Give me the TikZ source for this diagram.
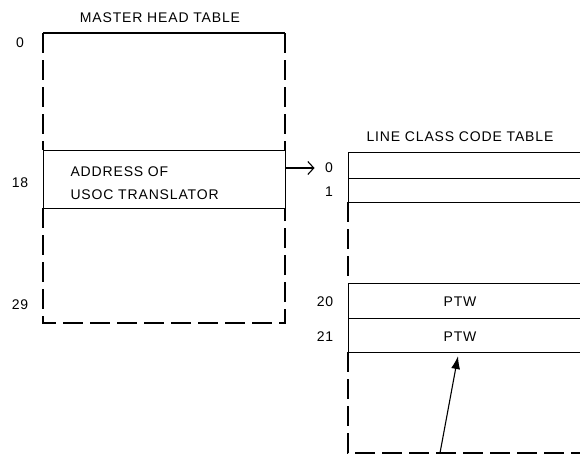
\documentclass[tikz,border=0pt]{standalone}
\usepackage{fontspec}
\newfontfamily\plotfont[LetterSpace=6]{Liberation Sans}
\usetikzlibrary{arrows.meta,positioning,calc}

\begin{document}
\begin{tikzpicture}[x=1pt, y=-1pt, line width=1.1pt,
    txt/.style={font=\plotfont\fontsize{14}{23}\selectfont, inner sep=0pt},
    cell/.style={draw, anchor=north west, inner sep=0pt, minimum width=#1},
    cell/.default=242pt,
    brk/.style={dash pattern=on 20pt off 7pt},
    arr/.style={-{Straight Barb[length=6pt,width=13pt]}},
    parr/.style={-{Latex[length=13pt,width=9pt]}}
]
\useasboundingbox (0,0) rectangle (580,456);
\clip (0,0) rectangle (580,456);

% master head table
\node[txt] (mhtitle) at (160,18) {MASTER HEAD TABLE};
\draw (43,33) -- (285,33);
\draw[brk] (43,33) -- (43,150) (285,33) -- (285,150);
\node[cell, minimum height=58pt] (addr) at (43,150) {};
\node[txt, anchor=west, align=left] (addrtxt) at (70,183) {ADDRESS OF\\USOC TRANSLATOR};
\draw[brk] (43,208) -- (43,323) -- (285,323) -- (285,208);
\node[txt] (m0) at (20,43) {0};
\node[txt] (m18) at (20,183) {18};
\node[txt] (m29) at (20,305) {29};

% line class code table
\node[txt] (lctitle) at (460,137) {LINE CLASS CODE TABLE};
\node[cell=270pt, minimum height=26pt] (r0) at (348,152) {};
\node[cell=270pt, minimum height=24pt] (r1) at (348,178) {};
\draw[brk] (348,202) -- (348,283);
\node[cell=270pt, minimum height=35pt] (r20) at (348,283) {};
\node[cell=270pt, minimum height=34pt] (r21) at (348,318) {};
\draw[brk] (348,352) -- (348,453) -- (620,453);
\node[txt] (l0) at (329,168) {0};
\node[txt] (l1) at (329,192) {1};
\node[txt] (l20) at (325,302) {20};
\node[txt] (l21) at (325,337) {21};
\node[txt] (ptw20) at (460,302) {PTW};
\node[txt] (ptw21) at (460,337) {PTW};

% pointers
\draw[arr] (addr.east |- l0) -- ([xshift=-10pt]l0.west);
\coordinate (tail) at (440,453);
\coordinate (tip) at (458,356);
\draw[parr] (tail) -- (tip);
\end{tikzpicture}
\end{document}
